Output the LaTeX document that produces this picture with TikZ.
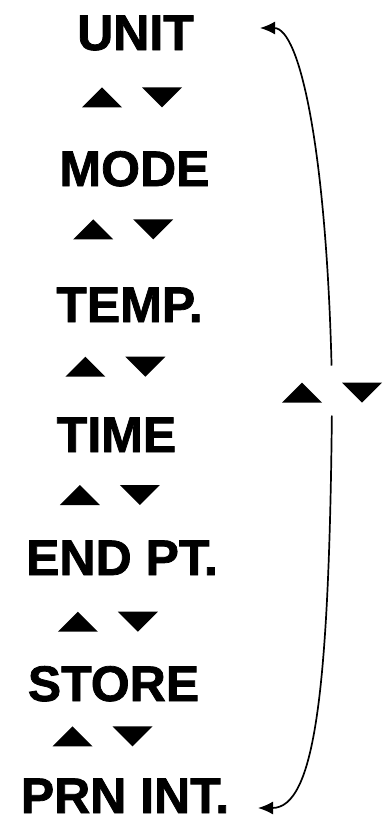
\documentclass[tikz,border=0pt]{standalone}
\usepackage{fontspec}
\setmainfont{Liberation Sans}[BoldFeatures={FakeBold=1.5}]
\usepackage{tikz}
\usetikzlibrary{arrows.meta}

\begin{document}
\begin{tikzpicture}[x=1pt, y=-1pt,
    menu/.style={font=\fontsize{50}{60}\selectfont\bfseries, anchor=base, inner sep=0pt},
    pair/.style={minimum width=100pt, minimum height=20pt, inner sep=0pt, outer sep=0pt},
    wrapline/.style={line width=1.7pt, -{Latex[length=15pt,width=13pt]}}]
  \useasboundingbox (0,0) rectangle (388,820);

  \foreach \n/\x/\y/\txt in {
    unit/135.5/50/{UNIT},
    mode/134.5/186/{MODE},
    temp/129.5/322/{TEMP.},
    time/116.5/452/{TIME},
    endpt/122/575/{END PT.},
    store/113.5/701/{STORE},
    prnint/125/813/{PRN INT.}
  }{
    \node[menu] (\n) at (\x,\y) {\txt};
  }

  \foreach \n/\x/\y in {
    k1/132/97.3, k2/123.2/229.3, k3/115.3/366.7, k4/109.8/495,
    k5/107.8/621.7, k6/102.5/736.3, wrap/332/392.5
  }{
    \node[pair] (\n) at (\x,\y) {};
    \fill (\n.south west) -- ++(40,0) -- ++(-20,-20) -- cycle;
    \fill (\n.north east) -- ++(-40,0) -- ++(20,20) -- cycle;
  }

  \coordinate (unittip) at (260,28);
  \coordinate (prntip) at (258,808);
  \draw[wrapline, shorten <=17pt] (wrap.north) .. controls (326,150) and (300,28) .. (unittip);
  \draw[wrapline, shorten <=13pt] (wrap.south) .. controls (329,690) and (315,808) .. (prntip);
\end{tikzpicture}
\end{document}
